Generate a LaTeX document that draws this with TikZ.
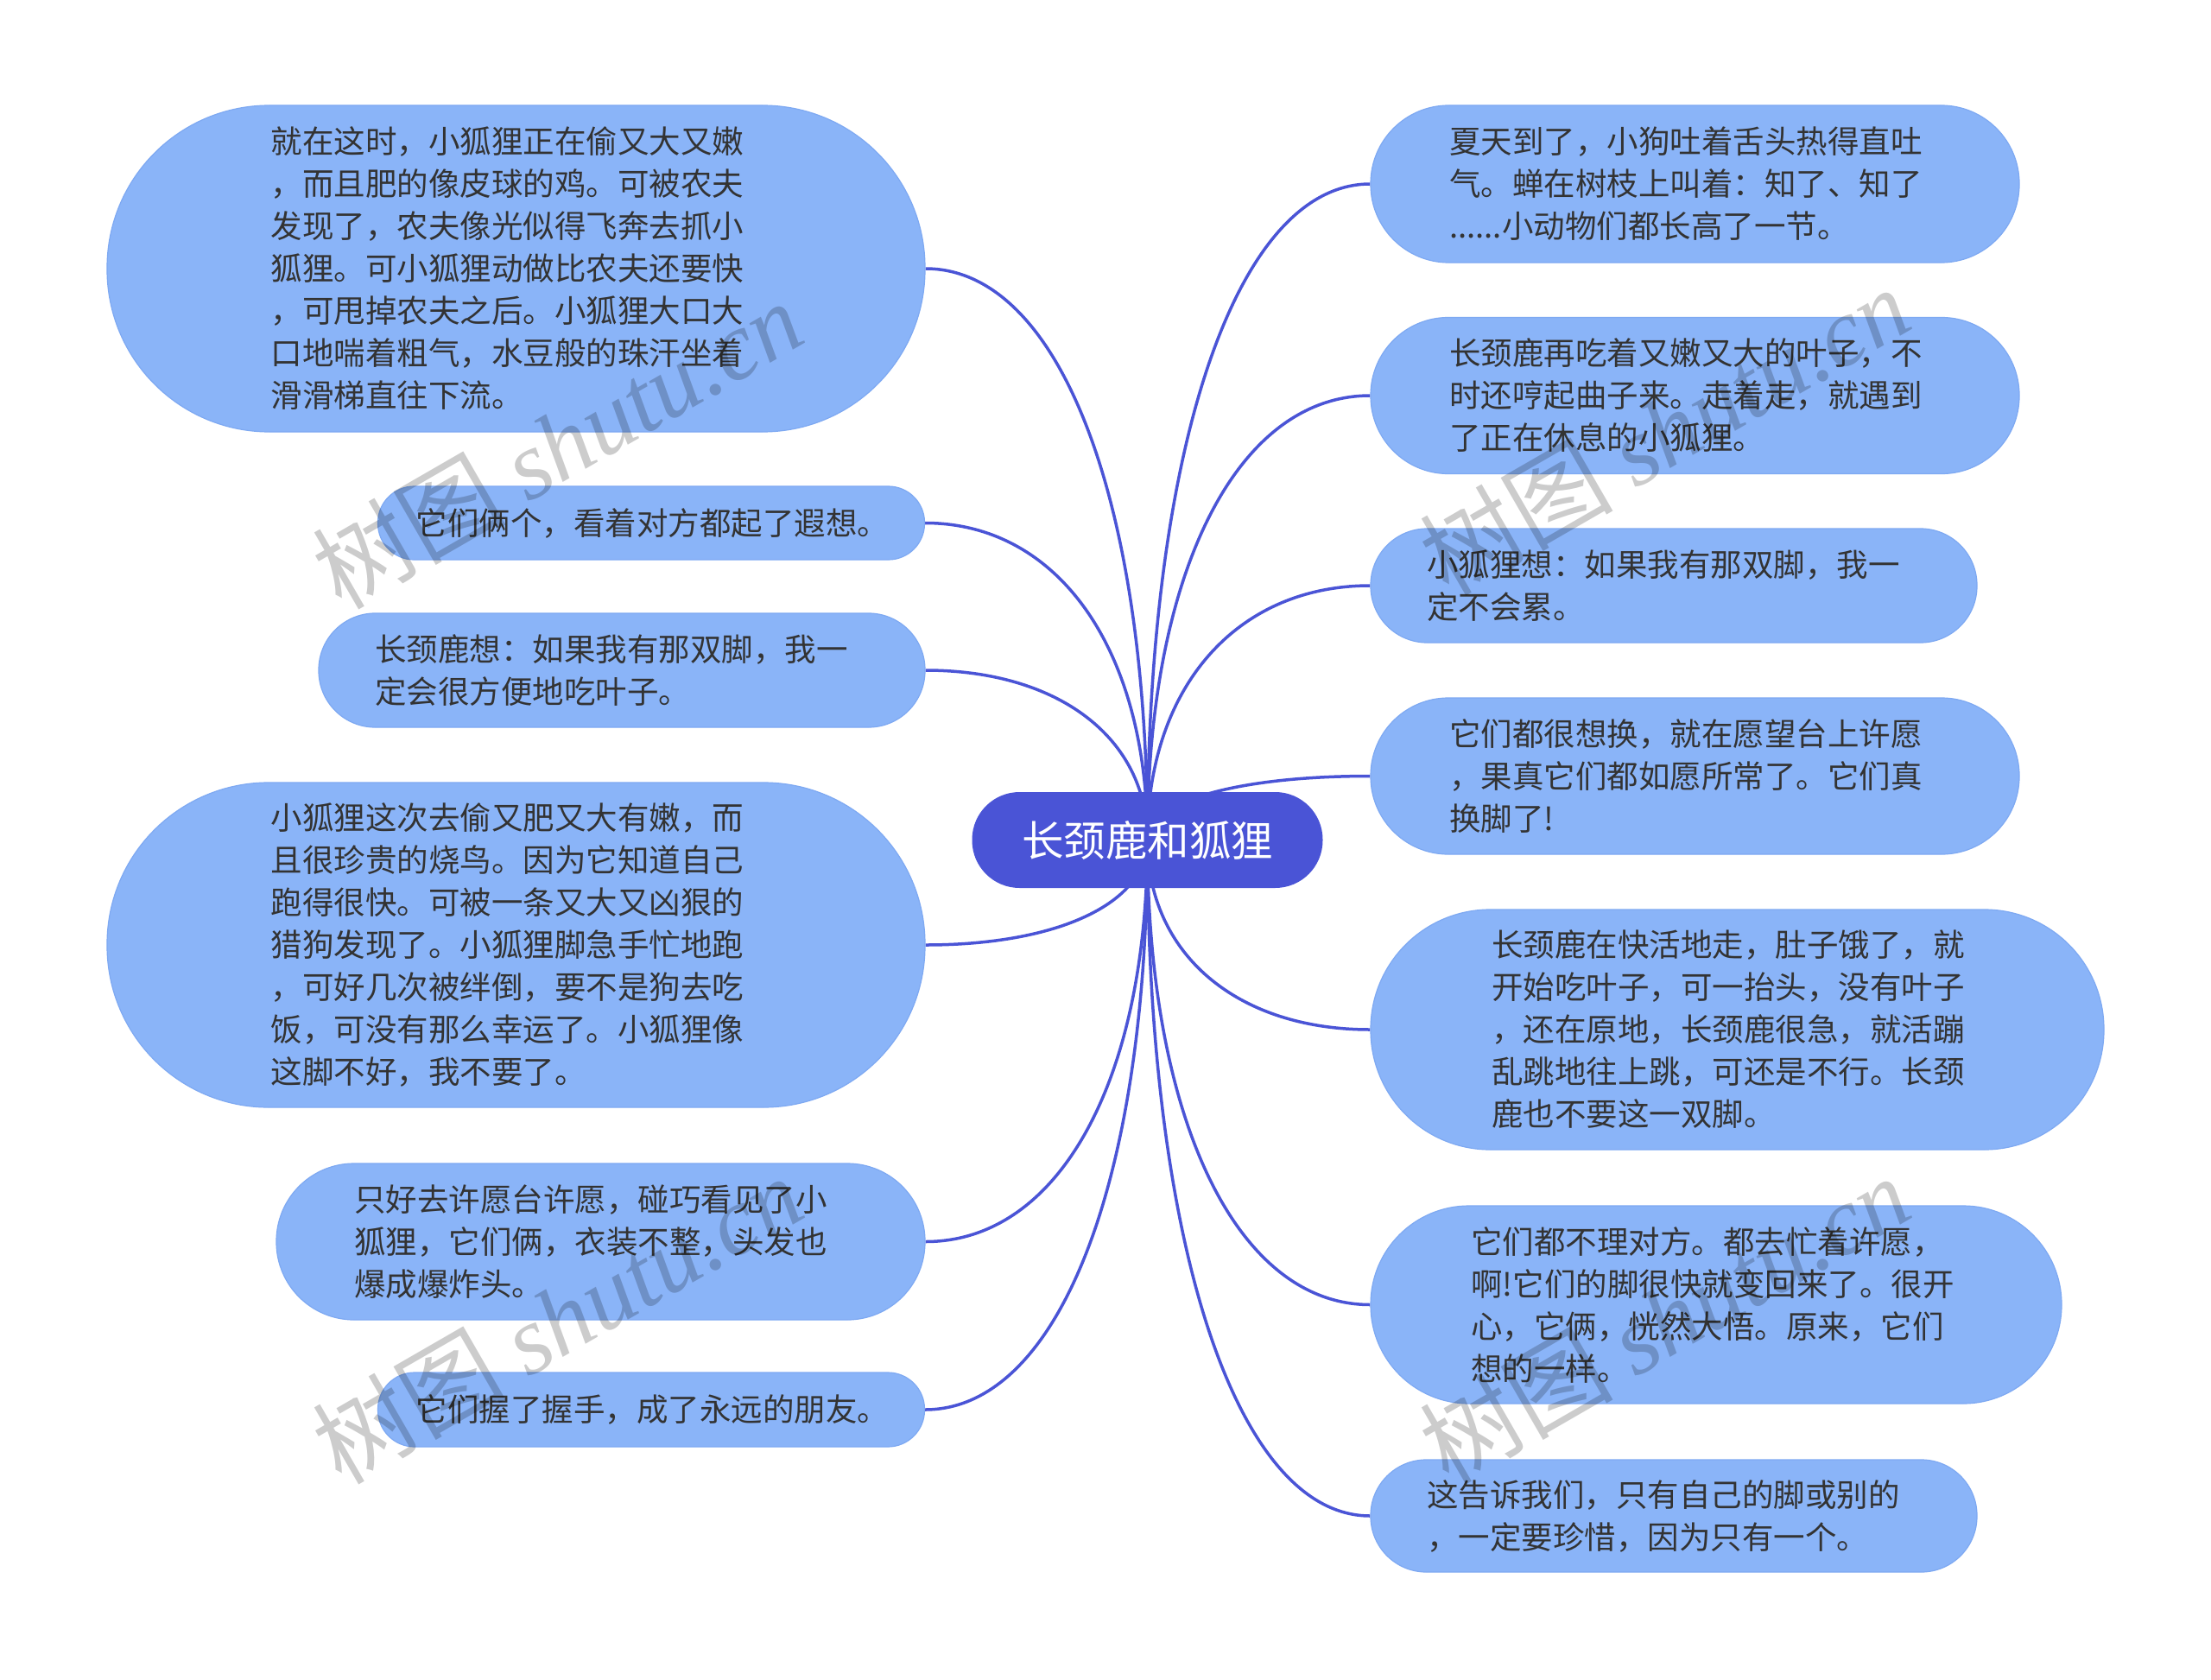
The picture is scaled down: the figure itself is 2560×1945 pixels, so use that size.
\documentclass[tikz,border=0pt]{standalone}
\usepackage{fontspec}
\newfontfamily\cjk{Noto Sans CJK SC}
\newfontfamily\wmserif{Liberation Serif}
\usetikzlibrary{calc}
\definecolor{boxfill}{HTML}{8AB4F8}
\definecolor{boxline}{HTML}{7EA9F2}
\definecolor{mainblue}{HTML}{4A54D6}
\definecolor{txt}{HTML}{333333}
\pgfdeclarelayer{bg}
\pgfsetlayers{bg,main}
\begin{document}
\begin{tikzpicture}[x=1pt,y=-1pt,
  bubble/.style={fill=boxfill, draw=boxline, line width=1.2pt, inner sep=0pt},
  body/.style={anchor=west, align=left, inner sep=0pt, text=txt,
    font=\cjk\fontsize{36.5pt}{49pt}\selectfont},
  conn/.style={draw=mainblue, line width=3.5pt},
  wm/.style={text=black, text opacity=0.2, inner sep=0pt,
    font=\cjk\fontsize{112pt}{112pt}\selectfont, rotate=30}]
\useasboundingbox (0,0) rectangle (2560,1945);
\begin{pgfonlayer}{bg}
\fill[white] (0,0) rectangle (2560,1945);
\end{pgfonlayer}

% central topic
\node[fill=mainblue, minimum width=406pt, minimum height=111pt, rounded corners=55pt,
  inner sep=0pt, text=white, font=\cjk\fontsize{48.5pt}{58pt}\selectfont]
  (c) at (1328.5,972.5) {长颈鹿和狐狸};

% left side
\node[bubble, minimum width=947pt, minimum height=378pt, rounded corners=188pt] (l1) at (597.5,311) {};
\node[body] (l1t) at (313.5,311) {就在这时，小狐狸正在偷又大又嫩\\，而且肥的像皮球的鸡。可被农夫\\发现了，农夫像光似得飞奔去抓小\\狐狸。可小狐狸动做比农夫还要快\\，可甩掉农夫之后。小狐狸大口大\\口地喘着粗气，水豆般的珠汗坐着\\滑滑梯直往下流。};

\node[bubble, minimum width=633pt, minimum height=85pt, rounded corners=42pt] (l2) at (754,605.5) {};
\node[body] (l2t) at (481.6,605.5) {它们俩个，看着对方都起了遐想。};

\node[bubble, minimum width=702pt, minimum height=132pt, rounded corners=65.5pt] (l3) at (720,776) {};
\node[body] (l3t) at (434,776) {长颈鹿想：如果我有那双脚，我一\\定会很方便地吃叶子。};

\node[bubble, minimum width=947pt, minimum height=376pt, rounded corners=187pt] (l4) at (597.5,1094) {};
\node[body] (l4t) at (313.5,1094) {小狐狸这次去偷又肥又大有嫩，而\\且很珍贵的烧鸟。因为它知道自己\\跑得很快。可被一条又大又凶狠的\\猎狗发现了。小狐狸脚急手忙地跑\\，可好几次被绊倒，要不是狗去吃\\饭，可没有那么幸运了。小狐狸像\\这脚不好，我不要了。};

\node[bubble, minimum width=751pt, minimum height=181pt, rounded corners=90pt] (l5) at (695.5,1437.5) {};
\node[body] (l5t) at (410,1437.5) {只好去许愿台许愿，碰巧看见了小\\狐狸，它们俩，衣装不整，头发也\\爆成爆炸头。};

\node[bubble, minimum width=633pt, minimum height=86pt, rounded corners=42.5pt] (l6) at (754,1632) {};
\node[body] (l6t) at (481.6,1632) {它们握了握手，成了永远的朋友。};

% right side
\node[bubble, minimum width=751pt, minimum height=182pt, rounded corners=90.5pt] (r1) at (1962.5,213) {};
\node[body] (r1t) at (1678,213) {夏天到了，小狗吐着舌头热得直吐\\气。蝉在树枝上叫着：知了、知了\\......小动物们都长高了一节。};

\node[bubble, minimum width=751pt, minimum height=181pt, rounded corners=90pt] (r2) at (1962.5,458) {};
\node[body] (r2t) at (1678,458) {长颈鹿再吃着又嫩又大的叶子，不\\时还哼起曲子来。走着走，就遇到\\了正在休息的小狐狸。};

\node[bubble, minimum width=702pt, minimum height=132pt, rounded corners=65.5pt] (r3) at (1938,678) {};
\node[body] (r3t) at (1652,678) {小狐狸想：如果我有那双脚，我一\\定不会累。};

\node[bubble, minimum width=751pt, minimum height=181pt, rounded corners=90pt] (r4) at (1962.5,898.5) {};
\node[body] (r4t) at (1678,898.5) {它们都很想换，就在愿望台上许愿\\，果真它们都如愿所常了。它们真\\换脚了!};

\node[bubble, minimum width=849pt, minimum height=278pt, rounded corners=138.5pt] (r5) at (2011.5,1192) {};
\node[body] (r5t) at (1727,1192) {长颈鹿在快活地走，肚子饿了，就\\开始吃叶子，可一抬头，没有叶子\\，还在原地，长颈鹿很急，就活蹦\\乱跳地往上跳，可还是不行。长颈\\鹿也不要这一双脚。};

\node[bubble, minimum width=800pt, minimum height=229pt, rounded corners=114pt] (r6) at (1987,1510.5) {};
\node[body] (r6t) at (1703,1510.5) {它们都不理对方。都去忙着许愿，\\啊!它们的脚很快就变回来了。很开\\心，它俩，恍然大悟。原来，它们\\想的一样。};

\node[bubble, minimum width=702pt, minimum height=130pt, rounded corners=64.5pt] (r7) at (1938,1755) {};
\node[body] (r7t) at (1652,1755) {这告诉我们，只有自己的脚或别的\\，一定要珍惜，因为只有一个。};

% connectors
\begin{pgfonlayer}{bg}
\foreach \t/\a in {l1/east,l2/east,l3/east,l4/east,l5/east,l6/east,
                   r1/west,r2/west,r3/west,r4/west,r5/west,r6/west,r7/west}
  \draw[conn] (c.center) .. controls ($(c.center)!0.6!(c.center |- \t.\a)$)
     and ($(\t.\a)!0.6!(c.center |- \t.\a)$) .. (\t.\a);
\end{pgfonlayer}

% watermarks
\node[wm] (w1) at (645,514) {树图 {\wmserif\itshape shutu.cn}};
\node[wm] (w2) at (645,1527) {树图 {\wmserif\itshape shutu.cn}};
\node[wm] (w3) at (1927,498) {树图 {\wmserif\itshape shutu.cn}};
\node[wm] (w4) at (1927,1527) {树图 {\wmserif\itshape shutu.cn}};
\end{tikzpicture}
\end{document}
